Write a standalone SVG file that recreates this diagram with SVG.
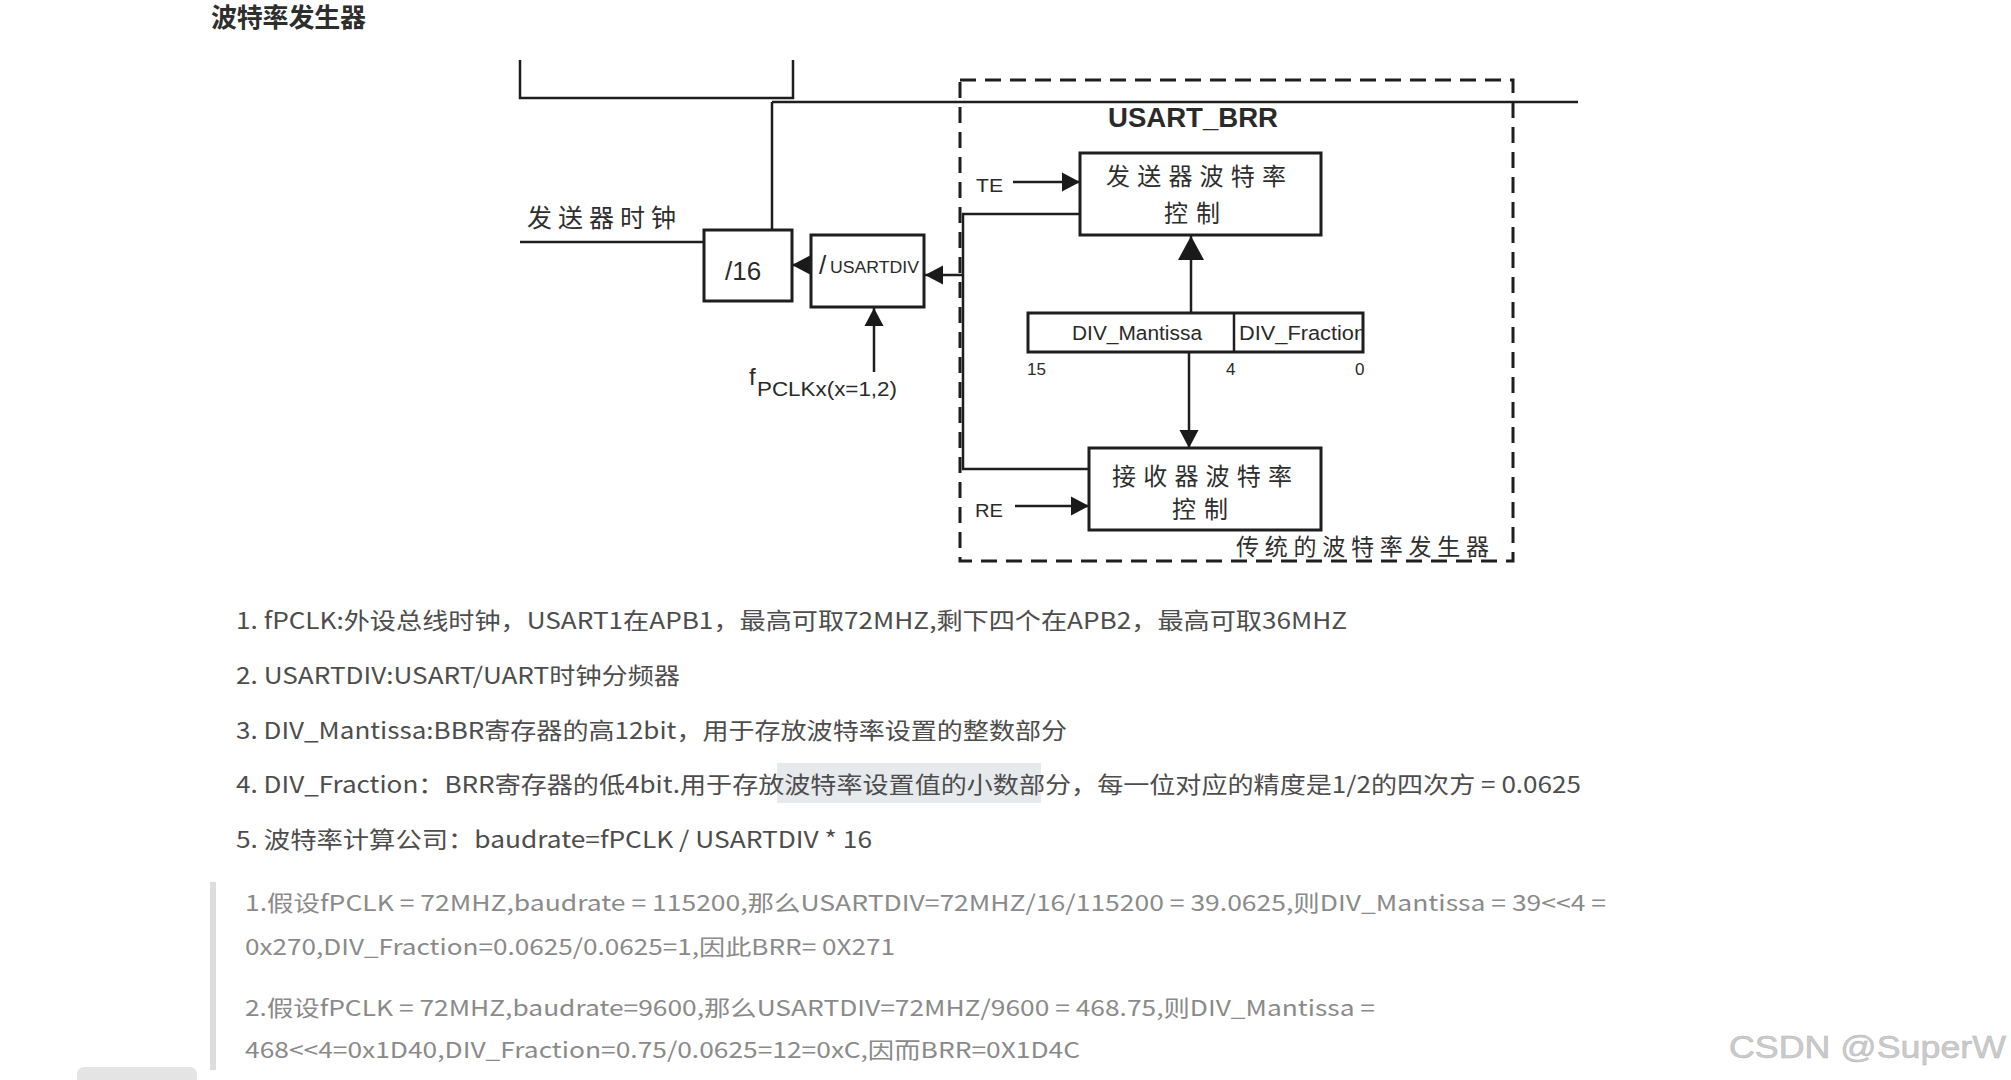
<svg xmlns="http://www.w3.org/2000/svg" width="2011" height="1080" viewBox="0 0 2011 1080">
<style>
.ln{stroke:#1e1e1e;stroke-width:2.5;fill:none}
.box{stroke:#1e1e1e;stroke-width:3;fill:#fff}
.dash{stroke:#1e1e1e;stroke-width:3;fill:none;stroke-dasharray:16 9}
.lat{font-family:"Liberation Sans",Arial,sans-serif;fill:#2a2a2a}
.cjk{font-family:"Noto Sans CJK SC","Noto Sans",sans-serif;fill:#2e2e2e}
.body{font-family:"Noto Sans CJK SC","Noto Sans",sans-serif;fill:#4d4d4d;font-size:23px}
.quote{font-family:"Noto Sans CJK SC","Noto Sans",sans-serif;fill:#8a8a8a;font-size:22px}
.wm{font-family:"Liberation Sans",Arial,sans-serif;fill:#cbcbcb;stroke:#b8b8b8;stroke-width:0.5}
</style>
<defs>
<marker id="ah" markerUnits="userSpaceOnUse" markerWidth="20" markerHeight="20" refX="18" refY="10" orient="auto"><path d="M0,0.5 L18,10 L0,19.5 z" fill="#1a1a1a"/></marker>
<marker id="ahBig" markerUnits="userSpaceOnUse" markerWidth="26" markerHeight="28" refX="24" refY="14" orient="auto"><path d="M0,1 L24,14 L0,27 z" fill="#1a1a1a"/></marker>
<clipPath id="fracClip"><rect x="1234" y="313" width="129" height="39"/></clipPath>
</defs>
<rect width="2011" height="1080" fill="#fff"/>

<text class="cjk" x="211" y="27" font-size="26" font-weight="bold" textLength="155">波特率发生器</text>

<g id="connectors">
<polyline class="ln" points="520,60 520,98 793,98 793,60" stroke-width="3"/>
<line class="ln" x1="772" y1="102" x2="1578" y2="102"/>
<line class="ln" x1="772" y1="102" x2="772" y2="230"/>
<line class="ln" x1="520" y1="242" x2="704" y2="242" stroke-width="3"/>
<line class="ln" x1="811" y1="265" x2="792" y2="265" marker-end="url(#ah)"/>
<line class="ln" x1="963" y1="275" x2="925" y2="275" marker-end="url(#ah)"/>
<line class="ln" x1="874" y1="372" x2="874" y2="308" marker-end="url(#ah)"/>
<polyline class="ln" points="1080,214 963,214 963,469 1089,469" stroke-width="3"/>
<line class="ln" x1="1013" y1="182" x2="1080" y2="182" stroke-width="3" marker-end="url(#ah)"/>
<line class="ln" x1="1015" y1="506" x2="1089" y2="506" stroke-width="3" marker-end="url(#ah)"/>
<line class="ln" x1="1191" y1="312" x2="1191" y2="236" stroke-width="4.5" marker-end="url(#ahBig)"/>
<line class="ln" x1="1189" y1="352" x2="1189" y2="448" marker-end="url(#ah)"/>
</g>

<g id="brr-frame">
<rect class="dash" x="960" y="80" width="553" height="481"/>
<text class="lat" x="1108" y="127" font-size="27" font-weight="bold" textLength="170" lengthAdjust="spacingAndGlyphs">USART_BRR</text>
<text class="cjk" x="1236" y="555" font-size="23" textLength="253">传统的波特率发生器</text>
</g>

<g id="tx-clock-label">
<text class="cjk" x="527" y="227" font-size="25" textLength="149">发送器时钟</text>
</g>

<g id="div16">
<rect class="box" x="704" y="230" width="88" height="71"/>
<text class="lat" x="725" y="280" font-size="26">/16</text>
</g>

<g id="usartdiv">
<rect class="box" x="811" y="235" width="113" height="72"/>
<text class="lat" x="819" y="274" font-size="26">/</text>
<text class="lat" x="830" y="273" font-size="16" textLength="89" lengthAdjust="spacingAndGlyphs">USARTDIV</text>
</g>

<g id="fpclk">
<text class="lat" x="749" y="385" font-size="24">f</text>
<text class="lat" x="757" y="396" font-size="21" textLength="140" lengthAdjust="spacingAndGlyphs">PCLKx(x=1,2)</text>
</g>

<g id="te">
<text class="lat" x="976" y="192" font-size="19" textLength="27" lengthAdjust="spacingAndGlyphs">TE</text>
</g>
<g id="re">
<text class="lat" x="975" y="517" font-size="19" textLength="28" lengthAdjust="spacingAndGlyphs">RE</text>
</g>

<g id="tx-baud">
<rect class="box" x="1080" y="153" width="241" height="82"/>
<text class="cjk" x="1106" y="185" font-size="24" textLength="180">发送器波特率</text>
<text class="cjk" x="1164" y="222" font-size="24" textLength="56">控制</text>
</g>

<g id="div-register">
<rect class="box" x="1028" y="313" width="335" height="39"/>
<line class="ln" x1="1234" y1="313" x2="1234" y2="352"/>
<text class="lat" x="1072" y="340" font-size="20" textLength="130" lengthAdjust="spacingAndGlyphs">DIV_Mantissa</text>
<text class="lat" x="1239" y="340" font-size="20" textLength="127" lengthAdjust="spacingAndGlyphs" clip-path="url(#fracClip)">DIV_Fraction</text>
<text class="lat" x="1027" y="375" font-size="17">15</text>
<text class="lat" x="1226" y="375" font-size="17">4</text>
<text class="lat" x="1355" y="375" font-size="17">0</text>
</g>

<g id="rx-baud">
<rect class="box" x="1089" y="448" width="232" height="82"/>
<text class="cjk" x="1112" y="485" font-size="24" textLength="180">接收器波特率</text>
<text class="cjk" x="1172" y="518" font-size="24" textLength="56">控制</text>
</g>

<g id="notes">
<rect x="777" y="763" width="264" height="40" fill="#e7eaed"/>
<text class="body" x="236" y="629" textLength="1111" lengthAdjust="spacingAndGlyphs">1. fPCLK:外设总线时钟，USART1在APB1，最高可取72MHZ,剩下四个在APB2，最高可取36MHZ</text>
<text class="body" x="236" y="684" textLength="444" lengthAdjust="spacingAndGlyphs">2. USARTDIV:USART/UART时钟分频器</text>
<text class="body" x="236" y="739" textLength="831" lengthAdjust="spacingAndGlyphs">3. DIV_Mantissa:BBR寄存器的高12bit，用于存放波特率设置的整数部分</text>
<text class="body" x="236" y="793" textLength="1345" lengthAdjust="spacingAndGlyphs">4. DIV_Fraction：BRR寄存器的低4bit.用于存放波特率设置值的小数部分，每一位对应的精度是1/2的四次方 = 0.0625</text>
<text class="body" x="236" y="848" textLength="636" lengthAdjust="spacingAndGlyphs">5. 波特率计算公司：baudrate=fPCLK / USARTDIV * 16</text>
</g>

<g id="examples">
<rect x="210" y="882" width="6" height="188" fill="#dcdcdc"/>
<text class="quote" x="245" y="911" textLength="1361" lengthAdjust="spacingAndGlyphs">1.假设fPCLK = 72MHZ,baudrate = 115200,那么USARTDIV=72MHZ/16/115200 = 39.0625,则DIV_Mantissa = 39&lt;&lt;4 =</text>
<text class="quote" x="245" y="955" textLength="650" lengthAdjust="spacingAndGlyphs">0x270,DIV_Fraction=0.0625/0.0625=1,因此BRR= 0X271</text>
<text class="quote" x="245" y="1016" textLength="1130" lengthAdjust="spacingAndGlyphs">2.假设fPCLK = 72MHZ,baudrate=9600,那么USARTDIV=72MHZ/9600 = 468.75,则DIV_Mantissa =</text>
<text class="quote" x="245" y="1058" textLength="835" lengthAdjust="spacingAndGlyphs">468&lt;&lt;4=0x1D40,DIV_Fraction=0.75/0.0625=12=0xC,因而BRR=0X1D4C</text>
</g>

<rect x="77" y="1067" width="120" height="24" rx="7" fill="#e4e4e4"/>
<text class="wm" x="1729" y="1058" font-size="31" textLength="277" lengthAdjust="spacingAndGlyphs">CSDN @SuperW</text>
</svg>
